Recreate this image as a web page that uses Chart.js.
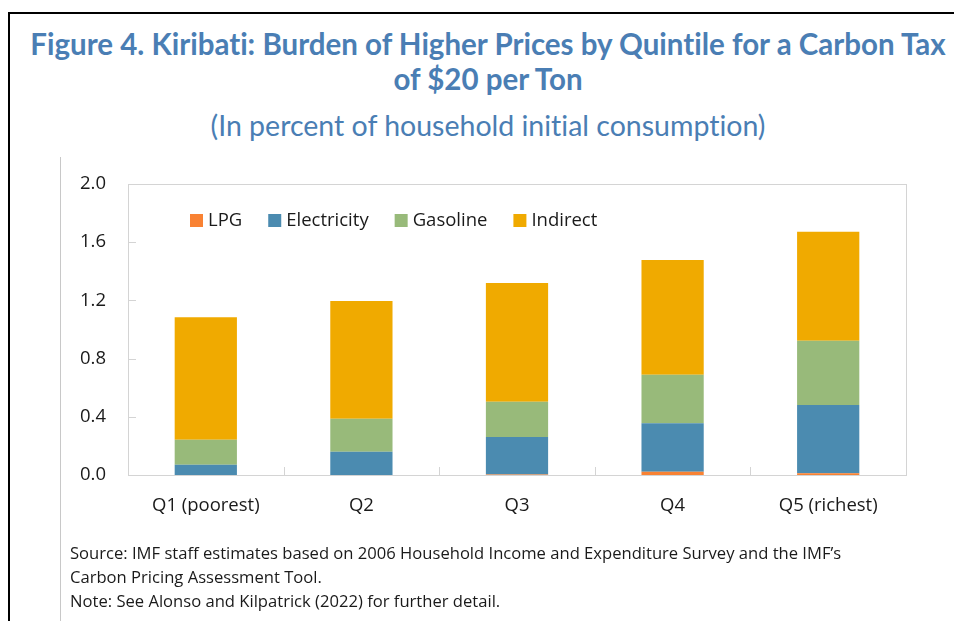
<!DOCTYPE html>
<html>
<head>
<meta charset="utf-8">
<script src="https://cdn.jsdelivr.net/npm/chart.js@4"></script>
<style>
  html, body { margin: 0; padding: 0; background: #fff; }
  body { width: 954px; height: 621px; position: relative; overflow: hidden; font-family: 'Open Sans', sans-serif; }
  #frame { position: absolute; left: 8px; top: 12px; width: 960px; height: 640px; border-left: 2px solid #000; border-top: 2px solid #000; }
  #innerLine { position: absolute; left: 60px; top: 157px; width: 1px; height: 470px; background: #c8c8c8; }
  .ttl { position: absolute; left: 0; width: 976px; text-align: center; color: #4a7eb4; font-family: Lato, sans-serif; white-space: nowrap; font-variant-ligatures: none; }
  #t1 { top: 26px; font-size: 29.5px; font-weight: bold; }
  #t2 { top: 61px; font-size: 29.5px; font-weight: bold; }
  #t3 { top: 108px; font-size: 28.5px; }
  #notes { position: absolute; left: 70px; top: 541px; font-size: 16.6px; line-height: 24px; color: #1a1a1a; }
  #wrap { position: absolute; left: 0; top: 0; width: 954px; height: 621px; }
</style>
</head>
<body>
<div id="frame"></div>
<div id="innerLine"></div>
<div class="ttl" id="t1">Figure 4. Kiribati: Burden of Higher Prices by Quintile for a Carbon Tax</div>
<div class="ttl" id="t2">of $20 per Ton</div>
<div class="ttl" id="t3">(In percent of household initial consumption)</div>
<div id="wrap"><canvas id="chart" width="954" height="621"></canvas></div>
<div id="notes">
  Source: IMF staff estimates based on 2006 Household Income and Expenditure Survey and the IMF’s<br>
  Carbon Pricing Assessment Tool.<br>
  Note: See Alonso and Kilpatrick (2022) for further detail.
</div>
<script>
// chart data
const quintiles = ['Q1 (poorest)', 'Q2', 'Q3', 'Q4', 'Q5 (richest)'];
const lpg = [0.0, 0.0, 0.003, 0.023, 0.012];
const electricity = [0.071, 0.16, 0.258, 0.332, 0.469];
const gasoline = [0.172, 0.227, 0.243, 0.334, 0.442];
const indirect = [0.841, 0.809, 0.816, 0.789, 0.749];
const yTicks = [0.0, 0.4, 0.8, 1.2, 1.6, 2.0];

const frameColor = '#d4d4d4';

// plot frame plus the small inward tick marks
const framePlugin = {
    id: 'frame',
    afterDatasetsDraw(chart) {
        const { ctx, chartArea: a, scales } = chart;
        ctx.save();
        ctx.strokeStyle = frameColor;
        ctx.lineWidth = 1;
        ctx.strokeRect(Math.round(a.left) + 0.5, Math.round(a.top) + 0.5, Math.round(a.right - a.left), Math.round(a.bottom - a.top));
        ctx.beginPath();
        yTicks.forEach(v => {
            const y = Math.round(scales.y.getPixelForValue(v)) + 0.5;
            ctx.moveTo(a.left, y);
            ctx.lineTo(a.left + 8, y);
        });
        const n = quintiles.length;
        const step = (a.right - a.left) / n;
        for (let i = 1; i < n; i++) {
            const x = Math.round(a.left + step * i) + 0.5;
            ctx.moveTo(x, a.bottom);
            ctx.lineTo(x, a.bottom - 8);
        }
        ctx.stroke();
        ctx.restore();
    }
};

// legend drawn inside the plot area
const legendPlugin = {
    id: 'insideLegend',
    afterDraw(chart) {
        const { ctx } = chart;
        ctx.save();
        ctx.font = '18.5px "Open Sans", sans-serif';
        ctx.textBaseline = 'middle';
        let x = 190;
        const y = 221;
        chart.data.datasets.forEach(ds => {
            ctx.fillStyle = ds.backgroundColor;
            ctx.fillRect(x, y - 7, 13, 13);
            ctx.fillStyle = '#1a1a1a';
            ctx.fillText(ds.label, x + 18, y);
            x += 18 + ctx.measureText(ds.label).width + 26;
        });
        ctx.restore();
    }
};

const ctx = document.getElementById('chart').getContext('2d');
new Chart(ctx, {
    type: 'bar',
    data: {
        labels: quintiles,
        datasets: [
            { label: 'LPG', data: lpg, backgroundColor: '#f98233' },
            { label: 'Electricity', data: electricity, backgroundColor: '#4b8bb0' },
            { label: 'Gasoline', data: gasoline, backgroundColor: '#98ba7a' },
            { label: 'Indirect', data: indirect, backgroundColor: '#f0aa00' }
        ]
    },
    options: {
        responsive: false,
        animation: false,
        datasets: { bar: { barPercentage: 0.4, categoryPercentage: 1.0 } },
        layout: { padding: { left: 0, right: 48, top: 184, bottom: 0 } },
        plugins: {
            legend: { display: false },
            tooltip: { enabled: false }
        },
        scales: {
            x: {
                stacked: true,
                grid: { display: false },
                border: { display: false },
                ticks: { color: '#1a1a1a', font: { family: 'Open Sans', size: 18.5 }, padding: 12, maxRotation: 0 },
                afterFit(scale) { scale.height = 146; }
            },
            y: {
                stacked: true,
                min: 0,
                max: 2.0,
                afterBuildTicks(scale) { scale.ticks = yTicks.map(v => ({ value: v })); },
                grid: { display: false },
                border: { display: false },
                ticks: {
                    color: '#1a1a1a',
                    font: { family: 'Open Sans', size: 18.5 },
                    padding: 14,
                    callback: v => v.toFixed(1)
                },
                afterFit(scale) { scale.width = 128; }
            }
        }
    },
    plugins: [framePlugin, legendPlugin]
});
</script>
</body>
</html>
